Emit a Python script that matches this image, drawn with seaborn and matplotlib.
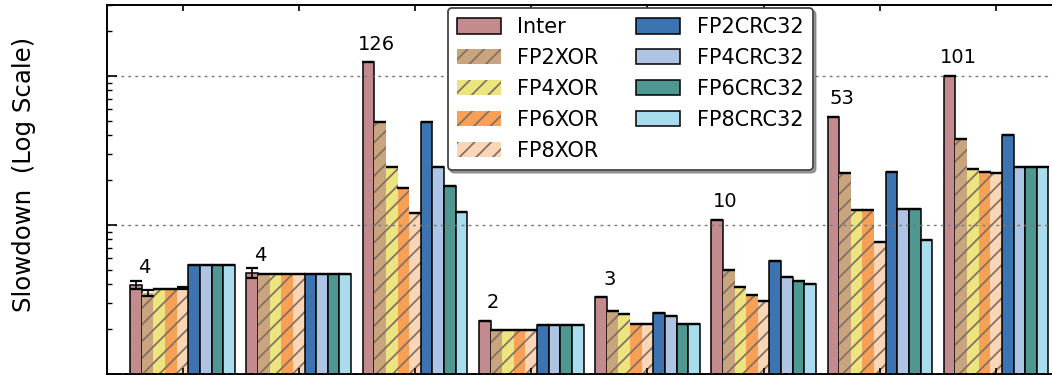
import pandas as pd
import numpy as np
import matplotlib
matplotlib.use("Agg")
import matplotlib.pyplot as plt
import seaborn as sns

benches = ["B1", "B2", "B3", "B4", "B5", "B6", "B7", "B8"]
variants = ["Inter", "FP2XOR", "FP4XOR", "FP6XOR", "FP8XOR",
            "FP2CRC32", "FP4CRC32", "FP6CRC32", "FP8CRC32"]
colors = ["#c48b8f", "#c9a57f", "#ece47e", "#f7a056", "#fbd6b6",
          "#3b74b1", "#adc4e4", "#4f9891", "#a9dcec"]
hatched = ["FP2XOR", "FP4XOR", "FP6XOR", "FP8XOR"]

# slowdown per variant, one value per benchmark (B1..B8)
inter    = [3.95, 4.75, 124.0, 2.27, 3.27, 10.8, 53.3, 100.6]
fp2xor   = [3.50, 4.67, 48.7, 1.97, 2.66, 4.99, 22.4, 37.6]
fp4xor   = [3.70, 4.67, 24.3, 1.97, 2.53, 3.82, 12.5, 23.7]
fp6xor   = [3.70, 4.67, 17.6, 1.97, 2.17, 3.39, 12.5, 22.8]
fp8xor   = [3.78, 4.67, 12.0, 1.97, 2.17, 3.10, 7.73, 22.4]
fp2crc   = [5.40, 4.67, 48.7, 2.13, 2.58, 5.73, 22.8, 40.2]
fp4crc   = [5.40, 4.67, 24.3, 2.13, 2.45, 4.50, 12.7, 24.3]
fp6crc   = [5.40, 4.67, 18.3, 2.13, 2.17, 4.23, 12.7, 24.3]
fp8crc   = [5.40, 4.67, 12.2, 2.13, 2.17, 4.02, 7.93, 24.3]
inter_err = [0.25, 0.35, 0, 0, 0, 0, 0, 0]
fp2xor_err = [0.17, 0, 0, 0, 0, 0, 0, 0]
fp8xor_err = [0.06, 0, 0, 0, 0, 0, 0, 0]
labels = ["4", "4", "126", "2", "3", "10", "53", "101"]

values = [inter, fp2xor, fp4xor, fp6xor, fp8xor, fp2crc, fp4crc, fp6crc, fp8crc]
errs = {"Inter": inter_err, "FP2XOR": fp2xor_err, "FP8XOR": fp8xor_err}

df = pd.DataFrame({
    "bench": benches * len(variants),
    "variant": np.repeat(variants, len(benches)),
    "slowdown": np.concatenate(values),
})

plt.rcParams["font.family"] = ["DejaVu Sans"]
plt.rcParams["hatch.linewidth"] = 1.3
fig = plt.figure(figsize=(10.52, 3.75), dpi=100)
ax = fig.add_axes([0.1017, 0.003, 0.917, 0.984])

sns.barplot(data=df, x="bench", y="slowdown", hue="variant", order=benches,
            hue_order=variants, palette=colors, saturation=1, width=0.9,
            edgecolor="black", linewidth=1.1, errorbar=None, ax=ax)
ax.set_yscale("log")

hatch_col = "#857160"
for name, cont in zip(variants, ax.containers):
    err = errs.get(name, [0] * len(benches))
    xs = [p.get_x() + p.get_width() / 2 for p in cont]
    hs = [p.get_height() for p in cont]
    if name in hatched:
        for p in cont:
            p.set_hatch("//")
            p.set_edgecolor(hatch_col)
            p.set_linewidth(0)
    ax.errorbar(xs, hs, yerr=err, fmt="none", ecolor="black",
                elinewidth=1.2, capsize=4.2, capthick=1.6, zorder=5)

# value labels above the Inter bars
for p, txt in zip(ax.containers[0], labels):
    ax.annotate(txt, (p.get_x() + p.get_width() / 2, p.get_height()),
                xytext=(6, 9), textcoords="offset points",
                ha="center", va="baseline", fontsize=14)

ax.set_ylim(1, 300)
ax.set_xlim(-0.65, 7.65)
ax.set_xlabel("")
ax.set_ylabel("Slowdown  (Log Scale)", fontsize=17.6)
ax.yaxis.set_label_coords(-0.074, 0.54)

ax.yaxis.grid(True, which="major", linestyle=(0, (2, 3)), color="#777777", linewidth=1)
ax.set_axisbelow(False)
ax.tick_params(axis="y", which="major", direction="in", length=7, width=1.2,
               left=True, right=True, labelleft=False)
ax.tick_params(axis="y", which="minor", direction="in", length=3.5, width=1,
               left=True, right=True)
ax.tick_params(axis="x", direction="in", length=4, width=1.2, top=True,
               bottom=True, labelbottom=False)
for s in ax.spines.values():
    s.set_linewidth(1.4)
    s.set_color("black")

ax.get_legend().remove()
ax.legend(list(ax.containers), variants, ncol=2, loc="upper left",
          bbox_to_anchor=(0.353, 0.992), borderaxespad=0, fontsize=15,
          handlelength=2.1, handleheight=0.75, handletextpad=0.8,
          labelspacing=0.52, columnspacing=1.8, borderpad=0.45,
          frameon=True, fancybox=True, shadow=True, framealpha=1,
          edgecolor="#444444")
ax.get_legend().get_frame().set_linewidth(1.3)

fig.savefig("out.png", dpi=100)
